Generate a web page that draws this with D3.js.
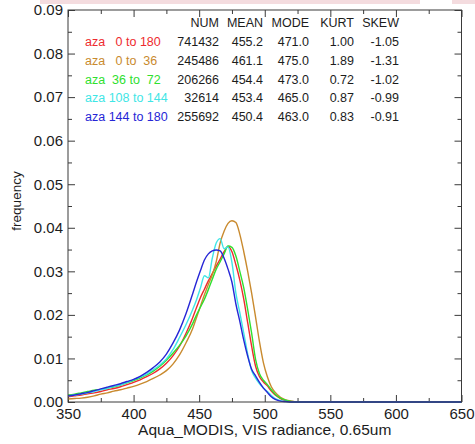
<!DOCTYPE html>
<html>
<head>
<meta charset="utf-8">
<script src="https://cdn.jsdelivr.net/npm/d3@7"></script>
<style>
  html, body { margin: 0; padding: 0; background: #fff; }
  svg { display: block; font-family: "Liberation Sans", Arial, Helvetica, sans-serif; }
</style>
</head>
<body>
<svg id="chart" width="475" height="444"></svg>
<script>
// ---------------- data ----------------
const radiance = [350,355,360,365,370,375,380,385,390,395,400,405,410,415,420,425,430,435,440,445,
  448,451,454,457,460,463,466,469,472,475,478,481,484,487,490,493,496,499,502,505,508,
  512,516,520,525,530,540,650];

const seriesNames = ["aza   0 to 180", "aza   0 to  36", "aza  36 to  72", "aza 108 to 144", "aza 144 to 180"];
const seriesColors = ["#ee2a2e", "#c98a2e", "#2fe02f", "#3fe6e6", "#2626d6"];

const freqAll = [.0012,.0014,.0016,.0019,.0021,.0024,.0028,.0031,.0035,.0040,.0045,.0051,.0058,.0066,.0076,.0089,.0106,.0128,.0158,.0193,
  .0217,.0240,.0259,.0278,.0295,.0312,.0328,.0345,.0357,.0345,.0315,.0280,.0236,.0182,.0128,.0082,.0058,.0046,.0037,.0025,.0016,
  .0008,.0003,.0001,0,0,0,0];
const freq0to36 = [.0007,.0008,.0009,.0011,.0014,.0018,.0021,.0025,.0028,.0032,.0036,.0041,.0047,.0054,.0062,.0072,.0087,.0108,.0136,.0168,
  .0194,.0220,.0246,.0270,.0292,.0322,.0365,.0392,.0410,.0416,.0412,.0385,.0345,.0300,.0250,.0195,.0138,.0090,.0058,.0035,.0022,
  .0011,.0005,.0002,0,0,0,0];
const freq36to72 = [.0016,.0018,.0021,.0024,.0027,.0029,.0032,.0035,.0039,.0044,.0049,.0055,.0062,.0071,.0082,.0096,.0112,.0130,.0152,.0180,
  .0200,.0218,.0236,.0258,.0282,.0305,.0322,.0340,.0358,.0355,.0335,.0300,.0262,.0212,.0158,.0098,.0065,.0050,.0040,.0028,.0018,
  .0009,.0004,.0001,0,0,0,0];
const freq108to144 = [.0014,.0016,.0018,.0021,.0024,.0028,.0031,.0036,.0039,.0045,.0051,.0057,.0064,.0074,.0085,.0099,.0120,.0148,.0178,.0212,
  .0235,.0262,.0290,.0285,.0330,.0365,.0375,.0352,.0356,.0320,.0250,.0205,.0158,.0110,.0072,.0055,.0042,.0032,.0024,.0015,.0008,
  .0003,.0001,0,0,0,0,0];
const freq144to180 = [.0014,.0016,.0019,.0022,.0026,.0030,.0034,.0038,.0042,.0047,.0052,.0059,.0068,.0079,.0092,.0110,.0135,.0165,.0203,.0248,
  .0276,.0302,.0326,.0340,.0347,.0349,.0347,.0330,.0305,.0275,.0225,.0185,.0142,.0105,.0075,.0060,.0045,.0032,.0022,.0012,.0006,
  .0002,.0001,0,0,0,0,0];
const seriesValues = [freqAll, freq0to36, freq36to72, freq108to144, freq144to180];

const statHeaders = ["NUM", "MEAN", "MODE", "KURT", "SKEW"];
const statNum  = ["741432", "245486", "206266", "32614", "255692"];
const statMean = ["455.2", "461.1", "454.4", "453.4", "450.4"];
const statMode = ["471.0", "475.0", "473.0", "465.0", "463.0"];
const statKurt = ["1.00", "1.89", "0.72", "0.87", "0.83"];
const statSkew = ["-1.05", "-1.31", "-1.02", "-0.99", "-0.91"];

const xTicks = [350,400,450,500,550,600,650];
const xMinor = [375,425,475,525,575,625];
const yTicks = [0,0.01,0.02,0.03,0.04,0.05,0.06,0.07,0.08,0.09];
const yMinor = [0.005,0.015,0.025,0.035,0.045,0.055,0.065,0.075,0.085];

// ---------------- layout ----------------
const L = 68, R = 461.5, T = 10, B = 402;
const svg = d3.select("#chart");
const x = d3.scaleLinear().domain([350, 650]).range([L, R]);
const y = d3.scaleLinear().domain([0, 0.09]).range([B, T]);
const textCol = "#1c1c1c", axisCol = "#3a3a3a";

// screenshot artifact band at top
svg.append("rect").attr("x", 40).attr("y", 0).attr("width", 380).attr("height", 4).attr("fill", "#f4dcdf");
svg.append("rect").attr("x", 452).attr("y", 0).attr("width", 23).attr("height", 4).attr("fill", "#f4dcdf");

// ---------------- axes ----------------
function styleAxis(g) {
  g.select(".domain").remove();
  g.selectAll(".tick line").attr("stroke", axisCol).attr("stroke-width", 1);
  g.selectAll(".tick text").attr("fill", textCol).style("font-size", "15px");
}
svg.append("g").attr("transform", `translate(0,${B})`)
  .call(d3.axisBottom(x).tickValues(xTicks).tickFormat(d3.format("d")).tickSizeInner(-7).tickSizeOuter(0).tickPadding(6))
  .call(styleAxis).selectAll(".tick text").attr("dy", "0.71em");
svg.append("g").attr("transform", `translate(0,${B})`)
  .call(d3.axisBottom(x).tickValues(xMinor).tickFormat("").tickSizeInner(-4).tickSizeOuter(0)).call(styleAxis);
svg.append("g").attr("transform", `translate(0,${T})`)
  .call(d3.axisTop(x).tickValues(xTicks).tickFormat("").tickSizeInner(-7).tickSizeOuter(0)).call(styleAxis);
svg.append("g").attr("transform", `translate(0,${T})`)
  .call(d3.axisTop(x).tickValues(xMinor).tickFormat("").tickSizeInner(-4).tickSizeOuter(0)).call(styleAxis);

svg.append("g").attr("transform", `translate(${L},0)`)
  .call(d3.axisLeft(y).tickValues(yTicks).tickFormat(d3.format(".2f")).tickSizeInner(-7).tickSizeOuter(0).tickPadding(5))
  .call(styleAxis);
svg.append("g").attr("transform", `translate(${L},0)`)
  .call(d3.axisLeft(y).tickValues(yMinor).tickFormat("").tickSizeInner(-4).tickSizeOuter(0)).call(styleAxis);
svg.append("g").attr("transform", `translate(${R},0)`)
  .call(d3.axisRight(y).tickValues(yTicks).tickFormat("").tickSizeInner(-7).tickSizeOuter(0)).call(styleAxis);
svg.append("g").attr("transform", `translate(${R},0)`)
  .call(d3.axisRight(y).tickValues(yMinor).tickFormat("").tickSizeInner(-4).tickSizeOuter(0)).call(styleAxis);

// ---------------- lines ----------------
const line = d3.line().x((d, i) => x(radiance[i])).y(d => y(d)).curve(d3.curveMonotoneX);
seriesValues.forEach((vals, k) => {
  svg.append("path").datum(vals)
    .attr("d", line)
    .attr("fill", "none")
    .attr("stroke", seriesColors[k])
    .attr("stroke-width", 1.4)
    .attr("stroke-linejoin", "round");
});

// frame
svg.append("rect").attr("x", L).attr("y", T).attr("width", R - L).attr("height", B - T)
  .attr("fill", "none").attr("stroke", axisCol).attr("stroke-width", 1);

// ---------------- legend / stats table ----------------
const colRight = [219, 263, 309, 354, 399];
const headY = 23, rowY0 = 42, rowStep = 18.6;
const fs = "12.5px";
statHeaders.forEach((h, j) => {
  svg.append("text").attr("x", colRight[j]).attr("y", headY).attr("dy", "0.35em")
    .attr("text-anchor", "end").attr("fill", textCol).style("font-size", fs).text(h);
});
const cols = [statNum, statMean, statMode, statKurt, statSkew];
seriesNames.forEach((name, i) => {
  const yy = rowY0 + i * rowStep;
  svg.append("text").attr("x", 85).attr("y", yy).attr("dy", "0.35em")
    .attr("xml:space", "preserve").style("white-space", "pre")
    .attr("fill", seriesColors[i]).style("font-size", fs).text(name);
  cols.forEach((c, j) => {
    svg.append("text").attr("x", colRight[j]).attr("y", yy).attr("dy", "0.35em")
      .attr("text-anchor", "end").attr("fill", textCol).style("font-size", fs).text(c[i]);
  });
});

// ---------------- titles ----------------
svg.append("text").attr("x", (L + R) / 2).attr("y", 430).attr("dy", "0.35em")
  .attr("text-anchor", "middle").attr("fill", textCol).style("font-size", "15.5px")
  .text("Aqua_MODIS, VIS radiance, 0.65um");
svg.append("text").attr("transform", "translate(16,201) rotate(-90)").attr("dy", "0.35em")
  .attr("text-anchor", "middle").attr("fill", textCol).style("font-size", "13.5px")
  .text("frequency");
</script>
</body>
</html>
